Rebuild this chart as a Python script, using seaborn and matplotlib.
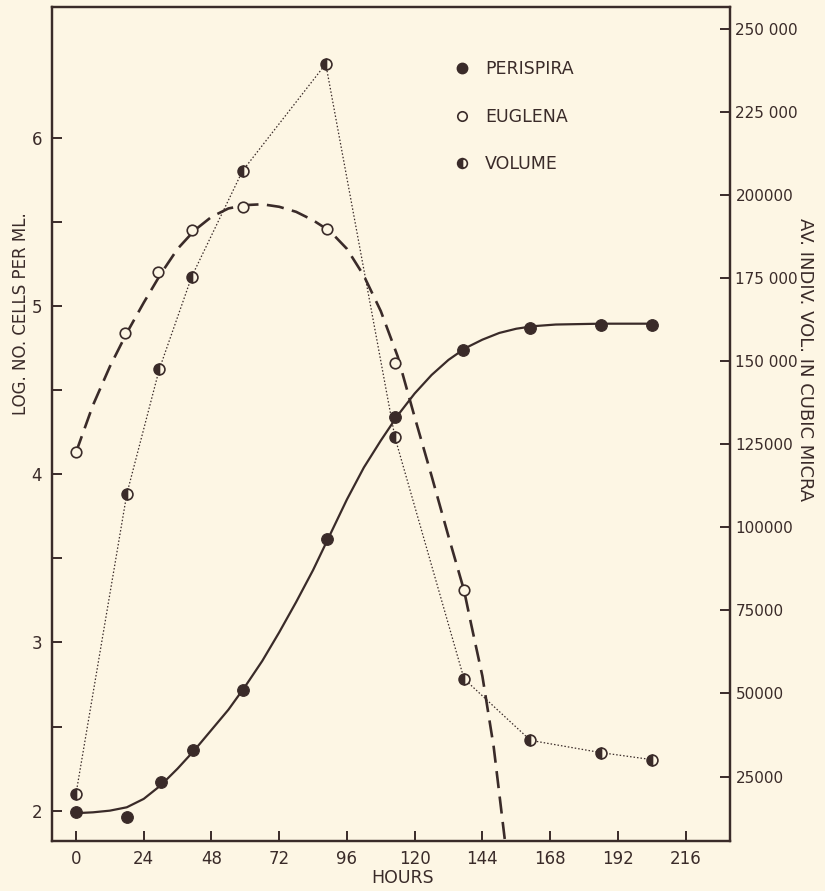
import matplotlib
matplotlib.use("Agg")
import matplotlib.pyplot as plt
import seaborn as sns
from matplotlib.lines import Line2D

# observed points (hours, log cells / ml)
peri_hours = [0, 18, 30, 41.5, 59, 89, 113, 137, 161, 186, 204]
peri_log = [1.99, 1.96, 2.17, 2.36, 2.72, 3.615, 4.34, 4.74, 4.87, 4.89, 4.89]

eug_hours = [0, 17.5, 29, 41, 59, 89, 113, 137.5]
eug_log = [4.13, 4.84, 5.20, 5.45, 5.59, 5.46, 4.66, 3.31]

vol_hours = [0, 18, 29.5, 41, 59, 88.5, 113, 137.5, 161, 186, 204]
vol_micra = [19800, 110000, 147500, 175400, 207200, 239400, 127100, 54400, 35900, 32200, 30100]

# hand drawn growth curves
peri_fit_hours = [0, 6, 12, 18, 24, 30, 36, 42, 48, 54, 60, 66, 72, 78, 84, 90, 96,
                  102, 108, 114, 120, 126, 132, 138, 144, 150, 156, 162, 170, 186, 204]
peri_fit_log = [1.985, 1.99, 2.00, 2.02, 2.07, 2.15, 2.25, 2.36, 2.48, 2.60, 2.74, 2.89,
                3.06, 3.24, 3.43, 3.64, 3.85, 4.04, 4.20, 4.35, 4.48, 4.59, 4.68, 4.75,
                4.80, 4.84, 4.865, 4.88, 4.89, 4.895, 4.895]

eug_fit_hours = [0, 6, 12, 18, 24, 30, 36, 42, 48, 54, 60, 66, 72, 78, 84, 90, 96,
                 102, 108, 114, 120, 126, 132, 137.5, 140, 144, 148, 152, 153]
eug_fit_log = [4.13, 4.41, 4.64, 4.84, 5.02, 5.19, 5.34, 5.45, 5.53, 5.58, 5.60, 5.605,
               5.59, 5.56, 5.51, 5.445, 5.34, 5.18, 4.97, 4.70, 4.34, 3.99, 3.63, 3.31,
               3.11, 2.80, 2.38, 1.82, 1.66]

x_ticks = [0, 24, 48, 72, 96, 120, 144, 168, 192, 216]
left_ticks = [2, 3, 4, 5, 6]
right_ticks = [25000, 50000, 75000, 100000, 125000, 150000, 175000, 200000, 225000, 250000]
right_labels = ["25000", "50000", "75000", "100000", "125000", "150 000",
                "175 000", "200000", "225 000", "250 000"]

paper = "#fdf6e4"
ink = "#3a2b29"

sns.set_theme(style="ticks")
plt.rcParams["font.family"] = ["DejaVu Sans"]
plt.rcParams["text.color"] = ink
plt.rcParams["axes.edgecolor"] = ink
plt.rcParams["xtick.color"] = ink
plt.rcParams["ytick.color"] = ink

fig = plt.figure(figsize=(8.25, 8.91), dpi=100, facecolor=paper)
ax = fig.add_axes([0.0627, 0.0565, 0.822, 0.9357])
ax.set_facecolor(paper)
ax2 = ax.twinx()

# curves
sns.lineplot(x=peri_fit_hours, y=peri_fit_log, ax=ax, color=ink, lw=1.6, sort=False)
sns.lineplot(x=eug_fit_hours, y=eug_fit_log, ax=ax, color=ink, lw=1.9, sort=False,
             linestyle=(0, (6.5, 3.2)))
sns.lineplot(x=vol_hours, y=vol_micra, ax=ax2, color=ink, lw=0.9, sort=False,
             linestyle=(0, (1.2, 1.6)), marker="o", markersize=7.8, fillstyle="left",
             markerfacecolor=ink, markerfacecoloralt=paper, markeredgecolor=ink,
             markeredgewidth=1.2)

# points
sns.lineplot(x=eug_hours, y=eug_log, ax=ax, color=ink, linestyle="none", marker="o",
             markersize=7.6, markerfacecolor=paper, markeredgecolor=ink,
             markeredgewidth=1.2, sort=False)
sns.lineplot(x=peri_hours, y=peri_log, ax=ax, color=ink, linestyle="none", marker="o",
             markersize=8.4, markerfacecolor=ink, markeredgecolor=ink,
             markeredgewidth=0.8, sort=False)

ax.set_xlim(-8.6, 231.7)
ax.set_ylim(1.8216, 6.778)
ax2.set_ylim(5716, 256530)

ax.set_xticks(x_ticks)
ax.set_xticklabels([str(t) for t in x_ticks])
ax.set_yticks(left_ticks)
ax.set_yticks([2.5, 3.5, 4.5, 5.5], minor=True)
ax2.set_yticks(right_ticks)
ax2.set_yticklabels(right_labels)

ax.tick_params(axis="both", which="both", direction="in", length=7, width=1.4,
               labelsize=12, pad=7)
ax.tick_params(axis="y", which="minor", length=7, width=1.4)
ax2.tick_params(axis="y", direction="in", length=7, width=1.4, labelsize=11, pad=4)

for a in (ax, ax2):
    for s in a.spines.values():
        s.set_linewidth(1.6)
        s.set_color(ink)

ax.set_xlabel("")
ax.set_ylabel("")
ax2.set_ylabel("")
fig.text(0.488, 0.004, "HOURS", ha="center", va="bottom", fontsize=12.5, color=ink)
fig.text(0.026, 0.648, "LOG. NO. CELLS PER ML.", rotation=90, ha="center", va="center",
         fontsize=12, color=ink)
fig.text(0.976, 0.596, "AV. INDIV. VOL. IN CUBIC MICRA", rotation=270, ha="center",
         va="center", fontsize=13, color=ink)

handles = [
    Line2D([], [], linestyle="none", marker="o", markersize=7.5, color=ink,
           markerfacecolor=ink),
    Line2D([], [], linestyle="none", marker="o", markersize=6.8, color=ink,
           markeredgewidth=1.2, markerfacecolor=paper),
    Line2D([], [], linestyle="none", marker="o", markersize=7.0, color=ink,
           markeredgewidth=1.2, fillstyle="left", markerfacecolor=ink,
           markerfacecoloralt=paper),
]
leg = ax.legend(handles, ["PERISPIRA", "EUGLENA", "VOLUME"], loc="upper left",
                bbox_to_anchor=(0.5697, 0.955), frameon=False, fontsize=12.5,
                labelspacing=1.71, handlelength=1.0, handletextpad=0.8)

fig.savefig("out.png", dpi=100, facecolor=paper)
